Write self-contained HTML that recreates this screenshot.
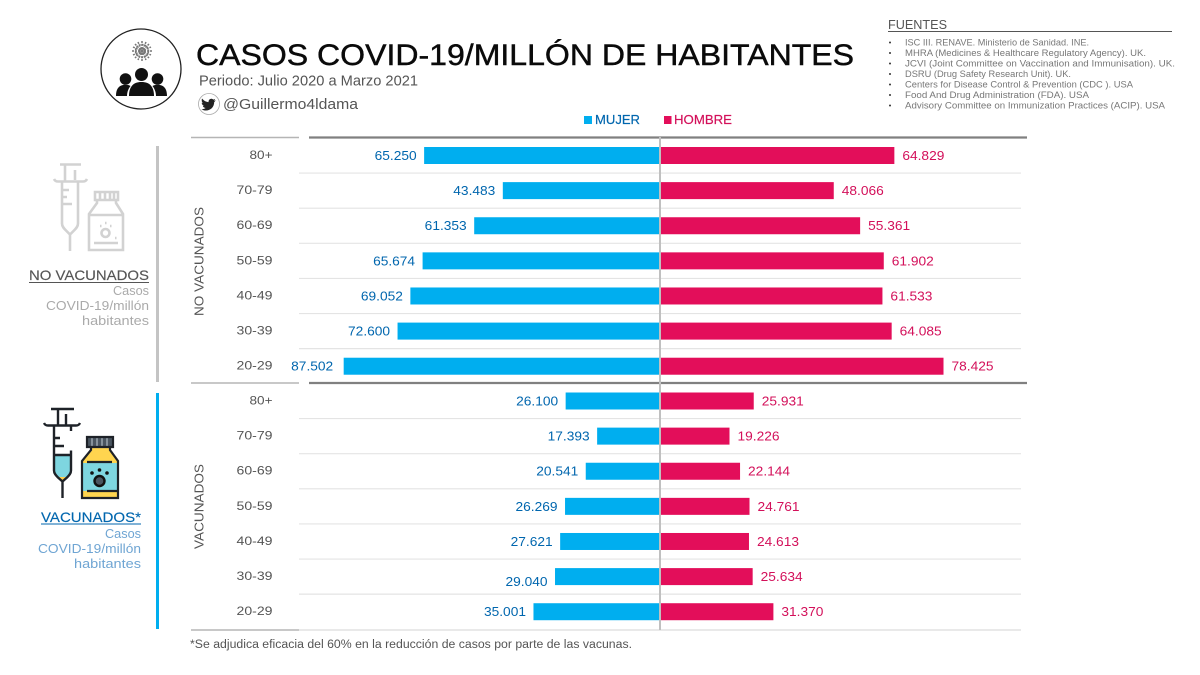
<!DOCTYPE html>
<html lang="es">
<head>
<meta charset="utf-8">
<title>Casos COVID-19/millón de habitantes</title>
<style>
html,body{margin:0;padding:0;background:#fff;width:1200px;height:675px;overflow:hidden}
svg{display:block}
text{font-family:"Liberation Sans",sans-serif}
</style>
</head>
<body>
<svg id="chart" xmlns="http://www.w3.org/2000/svg" width="1200" height="675" viewBox="0 0 1200 675">
  <rect width="1200" height="675" fill="#fff"/>

  <g>
    <circle cx="141" cy="69" r="40" fill="#fff" stroke="#222" stroke-width="1.3"/>
    <g stroke="#777" stroke-width="1.5" fill="none">
      <circle cx="142" cy="51" r="6.500" stroke-dasharray="2 1"/>
      <circle cx="142" cy="51" r="3.500" fill="#999" stroke="none"/>
      <path d="M142 41v20M132 51h20M135 44l14 14M149 44l-14 14M138 42l8 18M146 42l-8 18M133 47l18 8M133 55l18-8" stroke-dasharray="2 1"/>
    </g>
    <g fill="#111">
      <circle cx="125.500" cy="79" r="5.800"/>
      <circle cx="157.500" cy="79" r="5.800"/>
      <circle cx="141.500" cy="74.500" r="6.500"/>
      <path d="M116 96c0-6 2-10 7-11 3-.5 6 0 7.500 1-2 2.500-3.500 6-3.500 10z"/>
      <path d="M167 96c0-6-2-10-7-11-3-.5-6 0-7.500 1 2 2.500 3.500 6 3.500 10z"/>
      <path d="M129 96c0-9 4-14 12.500-14s12.500 5 12.500 14z"/>
    </g>
  </g>

  <text x="196" y="65" font-size="30" fill="#0a0a0a" stroke="#0a0a0a" stroke-width=".45" textLength="658" lengthAdjust="spacingAndGlyphs">CASOS COVID-19/MILLÓN DE HABITANTES</text>
  <text x="199" y="85.500" font-size="15" fill="#555" textLength="219" lengthAdjust="spacingAndGlyphs">Periodo: Julio 2020 a Marzo 2021</text>

  <g>
    <circle cx="209" cy="104" r="10.500" fill="#fff" stroke="#aaa" stroke-width=".8"/>
    <circle cx="209" cy="104" r="8.500" fill="#fff"/>
    <path d="M202 98.500c2 2.300 4 3.400 6.600 3.600-.4-2.600 2.700-4.400 4.600-2.500l2-.7-1.200 1.900 1.800-.4-1.600 1.700c0 5-3.800 8.400-8.200 8.400-1.700 0-3.200-.5-4.600-1.300 1.600.1 3-.3 4.200-1.200-1.400-.1-2.400-.9-2.800-2.100h1.300c-1.500-.5-2.400-1.600-2.400-3.100l1.300.4c-1.300-1-1.600-2.700-1-4.700z" fill="#222"/>
  </g>
  <text x="223" y="109" font-size="15" fill="#555" textLength="135" lengthAdjust="spacingAndGlyphs">@Guillermo4ldama</text>

  <g>
    <text x="888" y="29" font-size="13" fill="#555" textLength="59" lengthAdjust="spacingAndGlyphs">FUENTES</text>
    <line x1="888" x2="1172" y1="31.500" y2="31.500" stroke="#555" stroke-width="1"/>
    <g font-size="9" fill="#777">
      <text x="905" y="45.500" textLength="184" lengthAdjust="spacingAndGlyphs">ISC III. RENAVE. Ministerio de Sanidad. INE.</text>
      <text x="905" y="56" textLength="241" lengthAdjust="spacingAndGlyphs">MHRA (Medicines &amp; Healthcare Regulatory Agency). UK.</text>
      <text x="905" y="66.500" textLength="270" lengthAdjust="spacingAndGlyphs">JCVI (Joint Committee on Vaccination and Immunisation). UK.</text>
      <text x="905" y="77" textLength="166" lengthAdjust="spacingAndGlyphs">DSRU (Drug Safety Research Unit). UK.</text>
      <text x="905" y="87.500" textLength="228" lengthAdjust="spacingAndGlyphs">Centers for Disease Control &amp; Prevention (CDC ). USA</text>
      <text x="905" y="98" textLength="184" lengthAdjust="spacingAndGlyphs">Food And Drug Administration (FDA). USA</text>
      <text x="905" y="108.500" textLength="260" lengthAdjust="spacingAndGlyphs">Advisory Committee on Immunization Practices (ACIP). USA</text>
      <g fill="#333">
        <circle cx="890" cy="42.500" r="1"/><circle cx="890" cy="53" r="1"/><circle cx="890" cy="63.500" r="1"/><circle cx="890" cy="74" r="1"/><circle cx="890" cy="84.500" r="1"/><circle cx="890" cy="95" r="1"/><circle cx="890" cy="105.500" r="1"/>
      </g>
    </g>
  </g>

  <g>
    <g>
      <rect x="584" y="116" width="8" height="8" fill="#00aeef"/>
      <text x="595" y="124" font-size="13" fill="#0066ae" stroke="#0066ae" stroke-width=".2" textLength="45" lengthAdjust="spacingAndGlyphs">MUJER</text>
    </g>
    <g>
      <rect x="664" y="116" width="7.500" height="8" fill="#e30e5a"/>
      <text x="674" y="124" font-size="13" fill="#d3105a" stroke="#d3105a" stroke-width=".2" textLength="58" lengthAdjust="spacingAndGlyphs">HOMBRE</text>
    </g>
  </g>

  <g>
    <g fill="none" stroke="#d2d2d2" stroke-width="2.600">
      <path d="M60 164.500h21M65 164.500v16M75 170v10M54 179c1 2 2 2.500 4 2.500h25c2 0 3-.5 4-2.500M62 181.500v42c0 3 2 5 4 7l4 4 4-4c2-2 4-4 4-7v-42M70 235v16M63 190h6M63 197h4M63 204h9"/>
      <path d="M95 192h23v8H95zM100 192v8M105 192v8M110 192v8M114 192v8M97 200v3l-8 11v36h34v-36l-7-11v-3M89 215h34M94 243h24"/>
      <circle cx="105.500" cy="233" r="4"/>
      <path d="M100 226h1.500M105 223h1.500M110 226h1.500M115 238h1.500" stroke-width="2.500"/>
    </g>
    <text x="149" y="280" font-size="14" text-anchor="end" fill="#555" stroke="#555" stroke-width=".15" textLength="120" lengthAdjust="spacingAndGlyphs">NO VACUNADOS</text>
    <line x1="29" x2="149" y1="282.500" y2="282.500" stroke="#555" stroke-width="1"/>
    <text x="149" y="295" font-size="13" text-anchor="end" fill="#aaa" textLength="36" lengthAdjust="spacingAndGlyphs">Casos</text>
    <text x="149" y="310" font-size="13" text-anchor="end" fill="#aaa" textLength="103" lengthAdjust="spacingAndGlyphs">COVID-19/millón</text>
    <text x="149" y="325" font-size="13" text-anchor="end" fill="#aaa" textLength="67" lengthAdjust="spacingAndGlyphs">habitantes</text>
    <rect x="156" y="146" width="3" height="236" fill="#c4c4c4"/>
  </g>

  <g>
    <g>
      <path d="M54 455h17v16l-4 6h-9l-4-6z" fill="#7ed6e0"/>
      <path d="M58 477h9l-4.500 5z" fill="#ffcf4d"/>
      <path d="M51 409h23M58 409v16M66 414v11M44 423c1 2 2 2.500 4 2.500h28c2 0 3-.5 4-2.500M54 425.500v45c0 3 2 5 4 7l4.500 4 4.500-4c2-2 4-4 4-7v-20M71 431v-5M54 438h6M54 446h10M54 455h17M62.500 481v17" fill="none" stroke="#1e2228" stroke-width="2.400"/>
    </g>
    <g>
      <path d="M91 447h19v3l8 11v37H82v-37l9-11z" fill="#ffd54f"/>
      <rect x="82" y="463" width="36" height="28" fill="#7ed6e0"/>
      <rect x="87" y="437" width="26" height="10" fill="#4a5560"/>
      <path d="M92 437v10M97 437v10M102 437v10M107 437v10" stroke="#9aa5ad" stroke-width="1.500"/>
      <path d="M91 447v3l-9 11v37h36v-37l-8-11v-3M87 437h26v10H87zM87 462h25M87 491h31" fill="none" stroke="#1e2228" stroke-width="2.200"/>
      <circle cx="99.500" cy="481" r="5" fill="#4a5560" stroke="#111" stroke-width="2.400"/>
      <circle cx="92" cy="473" r="1.800" fill="#111"/><circle cx="99.500" cy="470" r="1.800" fill="#111"/><circle cx="107" cy="473" r="1.800" fill="#111"/>
    </g>
    <text x="141" y="522" font-size="14" text-anchor="end" fill="#0066ae" stroke="#0066ae" stroke-width=".15" textLength="100" lengthAdjust="spacingAndGlyphs">VACUNADOS*</text>
    <line x1="41" x2="141" y1="524" y2="524" stroke="#0066ae" stroke-width="1"/>
    <text x="141" y="538" font-size="13" text-anchor="end" fill="#6fa5d3" textLength="36" lengthAdjust="spacingAndGlyphs">Casos</text>
    <text x="141" y="553" font-size="13" text-anchor="end" fill="#6fa5d3" textLength="103" lengthAdjust="spacingAndGlyphs">COVID-19/millón</text>
    <text x="141" y="568" font-size="13" text-anchor="end" fill="#6fa5d3" textLength="67" lengthAdjust="spacingAndGlyphs">habitantes</text>
    <rect x="156" y="393" width="3" height="236" fill="#00aeef"/>
  </g>

  <text transform="translate(203.500 316) rotate(-90)" font-size="13" fill="#555" textLength="109" lengthAdjust="spacingAndGlyphs">NO VACUNADOS</text>
  <text transform="translate(203.500 549) rotate(-90)" font-size="13" fill="#555" textLength="85" lengthAdjust="spacingAndGlyphs">VACUNADOS</text>

  <g id="plot"></g>

  <text x="190" y="648" font-size="11.500" fill="#555" textLength="442" lengthAdjust="spacingAndGlyphs">*Se adjudica eficacia del 60% en la reducción de casos por parte de las vacunas.</text>
</svg>

<script>
const ageGroups = ['80+', '70-79', '60-69', '50-59', '40-49', '30-39', '20-29'];
// Bar lengths as drawn in the picture. The 60-69 women's bar is drawn shorter than its printed label.
const noVacMujer = [65250, 43483, 51400, 65674, 69052, 72600, 87502];
const noVacMujerPrinted = ['65.250', '43.483', '61.353', '65.674', '69.052', '72.600', '87.502'];
const noVacHombre = [64829, 48066, 55361, 61902, 61533, 64085, 78425];
const noVacHombrePrinted = ['64.829', '48.066', '55.361', '61.902', '61.533', '64.085', '78.425'];
const vacMujer = [26100, 17393, 20541, 26269, 27621, 29040, 35001];
const vacMujerPrinted = ['26.100', '17.393', '20.541', '26.269', '27.621', '29.040', '35.001'];
const vacHombre = [25931, 19226, 22144, 24761, 24613, 25634, 31370];
const vacHombrePrinted = ['25.931', '19.226', '22.144', '24.761', '24.613', '25.634', '31.370'];

const NS = 'http://www.w3.org/2000/svg';
const plot = document.getElementById('plot');
const CENTER_X = 660;
const PX_PER_CASE = 0.003615;
const ROW_STEP = 35.12;
const BAR_HEIGHT = 17;

function xScale(v) { return v * PX_PER_CASE; }
function make(tag, attrs, parent) {
  const el = document.createElementNS(NS, tag);
  for (const k in attrs) el.setAttribute(k, attrs[k]);
  parent.appendChild(el);
  return el;
}
function rule(x1, x2, y, color, width, parent) {
  const el = make('line', { x1: x1, x2: x2, y1: y, y2: y, stroke: color, 'stroke-width': width }, parent);
  
  
}

function drawGroup(groupKey, firstCenter, mujer, hombre, mujerPrinted, hombrePrinted) {
  const g = make('g', {}, plot);
  
  

  ageGroups.forEach(function (age, i) {
    const cy = firstCenter + i * ROW_STEP;
    if (i < ageGroups.length - 1) rule(299, 1021, cy + ROW_STEP / 2, '#e4e4e4', 1.2, g);

    const ageLabel = make('text', { x: 272.5, y: cy + 3.5, 'font-size': 12, 'text-anchor': 'end', fill: '#555',
      textLength: age === '80+' ? 23 : 36, lengthAdjust: 'spacingAndGlyphs' }, g);
    
    
    ageLabel.textContent = age;

    const wM = xScale(mujer[i]);
    const barM = make('rect', { x: CENTER_X - wM, y: cy - BAR_HEIGHT / 2, width: wM, height: BAR_HEIGHT, fill: '#00aeef' }, g);
    
    

    const wH = xScale(hombre[i]);
    const barH = make('rect', { x: CENTER_X, y: cy - BAR_HEIGHT / 2, width: wH, height: BAR_HEIGHT, fill: '#e30e5a' }, g);
    
    

    const isLoweredLabel = groupKey === 'vacunados' && age === '30-39';
    const isOutsetLabel = groupKey === 'no-vacunados' && age === '20-29';
    const labelM = make('text', { x: CENTER_X - wM - (isOutsetLabel ? 10.5 : 7.5), y: cy + 4.5 + (isLoweredLabel ? 5 : 0),
      'font-size': 13, 'text-anchor': 'end', fill: '#0066ae', textLength: 42, lengthAdjust: 'spacingAndGlyphs' }, g);
    
    
    labelM.textContent = mujerPrinted[i];

    const labelH = make('text', { x: CENTER_X + wH + 8, y: cy + 4.5, 'font-size': 13, fill: '#d3105a',
      textLength: 42, lengthAdjust: 'spacingAndGlyphs' }, g);
    
    
    labelH.textContent = hombrePrinted[i];
  });
}

drawGroup('no-vacunados', 155.5, noVacMujer, noVacHombre, noVacMujerPrinted, noVacHombrePrinted);
drawGroup('vacunados', 401, vacMujer, vacHombre, vacMujerPrinted, vacHombrePrinted);

rule(191, 299, 137.5, '#b5b5b5', 1.6, plot);
rule(309, 1027, 137.5, '#808080', 2.2, plot);
rule(191, 299, 383, '#b5b5b5', 1.6, plot);
rule(309, 1027, 383, '#808080', 2.2, plot);
rule(191, 299, 630, '#b5b5b5', 1.6, plot);
rule(299, 1021, 630, '#dcdcdc', 1.2, plot);

const axis = make('line', { x1: CENTER_X, x2: CENTER_X, y1: 137, y2: 630, stroke: '#c0c0c0', 'stroke-width': 2 }, plot);


</script>
</body>
</html>
